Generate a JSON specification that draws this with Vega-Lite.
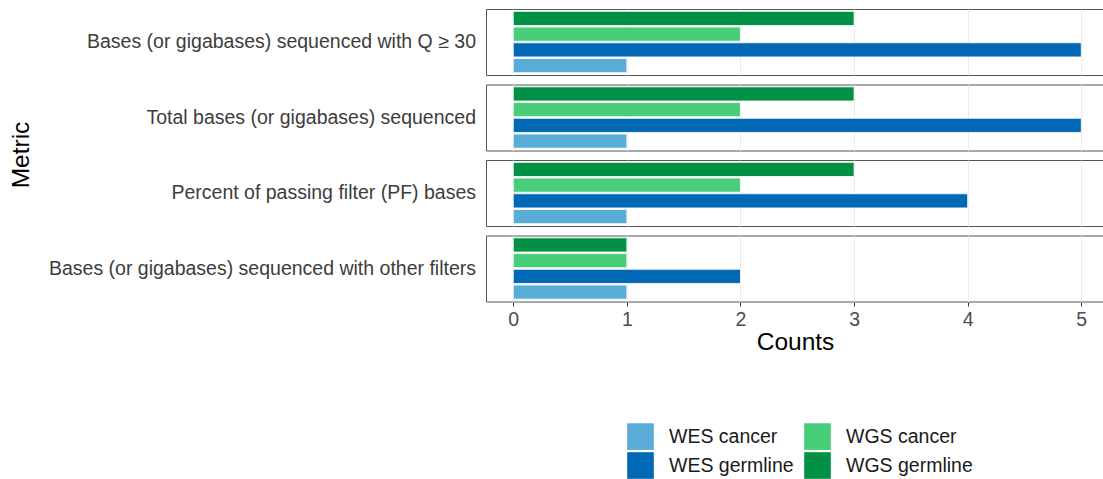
{
  "$schema": "https://vega.github.io/schema/vega-lite/v6.json",
  "padding": {"left": 8, "top": 8, "right": 0, "bottom": 0},
  "background": "white",
  "data": {"values": [
    {"metric": "Bases (or gigabases) sequenced with Q ≥ 30", "group": "WES cancer", "count": 1},
    {"metric": "Bases (or gigabases) sequenced with Q ≥ 30", "group": "WES germline", "count": 5},
    {"metric": "Bases (or gigabases) sequenced with Q ≥ 30", "group": "WGS cancer", "count": 2},
    {"metric": "Bases (or gigabases) sequenced with Q ≥ 30", "group": "WGS germline", "count": 3},
    {"metric": "Total bases (or gigabases) sequenced", "group": "WES cancer", "count": 1},
    {"metric": "Total bases (or gigabases) sequenced", "group": "WES germline", "count": 5},
    {"metric": "Total bases (or gigabases) sequenced", "group": "WGS cancer", "count": 2},
    {"metric": "Total bases (or gigabases) sequenced", "group": "WGS germline", "count": 3},
    {"metric": "Percent of passing filter (PF) bases", "group": "WES cancer", "count": 1},
    {"metric": "Percent of passing filter (PF) bases", "group": "WES germline", "count": 4},
    {"metric": "Percent of passing filter (PF) bases", "group": "WGS cancer", "count": 2},
    {"metric": "Percent of passing filter (PF) bases", "group": "WGS germline", "count": 3},
    {"metric": "Bases (or gigabases) sequenced with other filters", "group": "WES cancer", "count": 1},
    {"metric": "Bases (or gigabases) sequenced with other filters", "group": "WES germline", "count": 2},
    {"metric": "Bases (or gigabases) sequenced with other filters", "group": "WGS cancer", "count": 1},
    {"metric": "Bases (or gigabases) sequenced with other filters", "group": "WGS germline", "count": 1}
  ]},
  "spacing": 7.5,
  "facet": {
    "row": {
      "field": "metric",
      "type": "nominal",
      "sort": ["Bases (or gigabases) sequenced with Q ≥ 30", "Total bases (or gigabases) sequenced", "Percent of passing filter (PF) bases", "Bases (or gigabases) sequenced with other filters"],
      "title": "Metric",
      "header": {
        "labelOrient": "left",
        "labelAngle": 0,
        "labelAlign": "left",
        "labelFont": "Liberation Sans",
        "labelFontSize": 19.5,
        "labelColor": "#3d3d3d",
        "labelPadding": 9,
        "titleOrient": "left",
        "titleFont": "Liberation Sans",
        "titleFontSize": 24.5,
        "titleFontWeight": "normal",
        "titleColor": "#000000",
        "titlePadding": 4
      }
    }
  },
  "spec": {
    "width": 618,
    "height": 66,
    "mark": {"type": "bar", "stroke": "white", "strokeWidth": 0.8},
    "encoding": {
      "y": {
        "field": "group",
        "type": "nominal",
        "sort": ["WGS germline", "WGS cancer", "WES germline", "WES cancer"],
        "scale": {"paddingInner": 0.1, "paddingOuter": 0.15},
        "axis": null
      },
      "x": {
        "field": "count",
        "type": "quantitative",
        "scale": {"domain": [-0.24, 5.2], "nice": false, "zero": false},
        "axis": {
          "values": [0, 1, 2, 3, 4, 5],
          "title": "Counts",
          "titleFont": "Liberation Sans",
          "titleFontSize": 24.5,
          "titleFontWeight": "normal",
          "titleColor": "#000000",
          "titlePadding": 2,
          "labelFont": "Liberation Sans",
          "labelFontSize": 19.5,
          "labelColor": "#4d4d4d",
          "labelPadding": 4,
          "tickColor": "#333333",
          "tickSize": 4,
          "domain": false,
          "grid": true,
          "gridColor": "#ebebeb",
          "gridWidth": 1
        }
      },
      "color": {
        "field": "group",
        "type": "nominal",
        "scale": {
          "domain": ["WES cancer", "WES germline", "WGS cancer", "WGS germline"],
          "range": ["#5aacd8", "#0068b4", "#48ce78", "#009146"]
        },
        "legend": {
          "title": null,
          "orient": "none",
          "legendX": 141,
          "legendY": 414,
          "columns": 2,
          "symbolType": "square",
          "symbolSize": 710,
          "symbolStrokeWidth": 0,
          "labelFont": "Liberation Sans",
          "labelFontSize": 19.5,
          "labelColor": "#1a1a1a",
          "rowPadding": 2,
          "columnPadding": 10,
          "labelOffset": 15
        }
      }
    }
  },
  "config": {
    "view": {"stroke": "#555555", "strokeWidth": 1},
    "axis": {"gridColor": "#ebebeb"}
  }
}
